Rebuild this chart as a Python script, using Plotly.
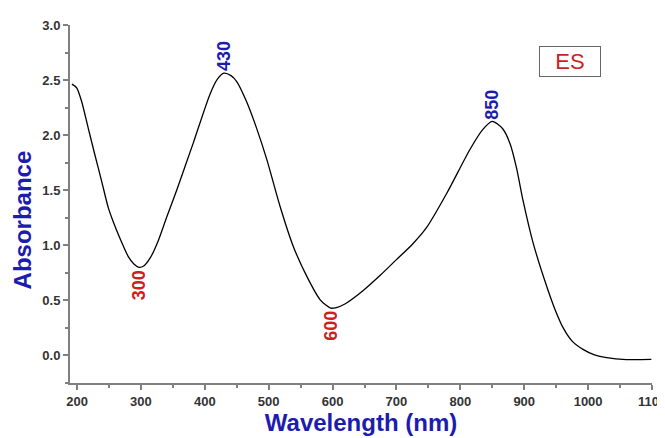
import plotly.graph_objects as go

wavelength = [192, 199.5, 207, 217.7, 228, 238.6, 249, 257, 266, 280, 289, 297, 305, 315, 327, 340, 356, 382, 408, 420, 430, 441, 450, 465, 481, 497, 518, 538.5, 559.5, 580, 590, 597, 606, 620, 648, 675, 700, 725, 747, 779, 815, 835, 850, 866, 878, 888, 898, 914, 935, 948, 961, 975, 992, 1010, 1029, 1060, 1099]
absorbance = [2.463, 2.43, 2.31, 2.06, 1.82, 1.58, 1.34, 1.21, 1.08, 0.90, 0.83, 0.80, 0.815, 0.89, 1.04, 1.25, 1.50, 1.93, 2.37, 2.51, 2.563, 2.54, 2.487, 2.31, 2.064, 1.78, 1.35, 0.99, 0.72, 0.51, 0.455, 0.43, 0.435, 0.47, 0.59, 0.73, 0.87, 1.01, 1.16, 1.475, 1.87, 2.05, 2.125, 2.06, 1.92, 1.70, 1.41, 1.02, 0.63, 0.42, 0.25, 0.13, 0.055, 0.005, -0.02, -0.037, -0.036]

peak_x = [430, 850]
peak_y = [2.563, 2.125]
peak_labels = ["430", "850"]
valley_x = [297, 597]
valley_y = [0.80, 0.43]
valley_labels = ["300", "600"]

x_ticks = [200, 300, 400, 500, 600, 700, 800, 900, 1000, 1100]
y_ticks = [0.0, 0.5, 1.0, 1.5, 2.0, 2.5, 3.0]

fig = go.Figure()
fig.add_trace(go.Scatter(x=wavelength, y=absorbance, mode="lines",
                         line=dict(color="black", width=1.3, shape="spline", smoothing=0.7),
                         showlegend=False, hoverinfo="skip"))

blue = "#1c1cb0"
red = "#cc1f1f"
font_family = "Liberation Sans, Arial"
for x, y, t in zip(peak_x, peak_y, peak_labels):
    fig.add_annotation(x=x, y=y, text=f"<b>{t}</b>", showarrow=False, textangle=-90,
                       xanchor="center", yanchor="bottom", yshift=0,
                       font=dict(family=font_family, size=18, color=blue))
for x, y, t in zip(valley_x, valley_y, valley_labels):
    fig.add_annotation(x=x, y=y, text=f"<b>{t}</b>", showarrow=False, textangle=-90,
                       xanchor="center", yanchor="top", yshift=-1,
                       font=dict(family=font_family, size=18, color=red))

fig.add_annotation(xref="paper", yref="paper", x=0.859, y=0.897, text="ES", showarrow=False,
                   xanchor="center", yanchor="middle",
                   font=dict(family=font_family, size=22, color=red),
                   bordercolor="#666666", borderwidth=1, borderpad=2,
                   width=56, height=25, bgcolor="white")

# y-axis title placed as annotation (it sits below the axis centre in the reference)
fig.add_annotation(xref="paper", yref="paper", x=-0.082, y=0.455, text="<b>Absorbance</b>",
                   showarrow=False, textangle=-90, xanchor="center", yanchor="middle",
                   font=dict(family=font_family, size=24, color=blue))

axis_common = dict(showline=True, linecolor="#808080", linewidth=2, ticks="outside",
                   tickcolor="#808080", tickwidth=1.5, ticklen=5, showgrid=False, zeroline=False,
                   tickfont=dict(family=font_family, size=13, color="#333333"),
                   ticklabeloverflow="allow", mirror=False, automargin=False)

# page body adds an 8px offset, so the figure is sized/margined to compensate
fig.update_layout(
    width=657, height=430,
    margin=dict(l=62, r=13, t=17, b=55),
    paper_bgcolor="white", plot_bgcolor="white",
    xaxis=dict(range=[189, 1100], tickvals=x_ticks, ticktext=[f"<b>{v}</b>" for v in x_ticks],
               minor=dict(dtick=50, ticklen=3, tickcolor="#808080", ticks="outside"),
               title=dict(text="<b>Wavelength (nm)</b>", standoff=6,
                          font=dict(family=font_family, size=24, color=blue)),
               **axis_common),
    yaxis=dict(range=[-0.25, 3.0], tickvals=y_ticks, ticktext=[f"<b>{v:.1f}</b>" for v in y_ticks],
               minor=dict(dtick=0.25, ticklen=3, tickcolor="#808080", ticks="outside"),
               **axis_common),
)

fig.write_html("out.html")
